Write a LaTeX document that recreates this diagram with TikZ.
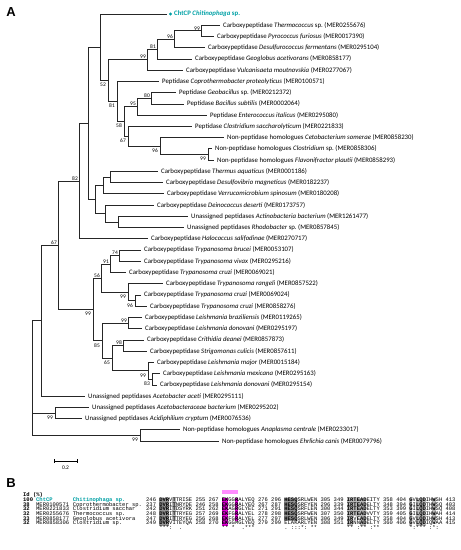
\documentclass[tikz,border=0pt]{standalone}
\usepackage{fontspec}
\setmainfont{Carlito}
\newfontfamily\panelfont{Liberation Sans}
\newfontfamily\alnfont{Liberation Mono}[WordSpace={1,0,0}]
\usetikzlibrary{calc, shapes.geometric}
\frenchspacing

\definecolor{chtteal}{RGB}{0,160,165}
\definecolor{hlmag}{RGB}{225,0,215}
\definecolor{hlpink}{RGB}{255,140,255}
\definecolor{hlgray}{RGB}{185,185,185}
\definecolor{hldark}{RGB}{150,150,150}

\tikzset{
  branch/.style={line width=0.8pt, black!85},
  leaftext/.style={anchor=west, inner sep=0pt, font=\fontsize{6.8}{7}\selectfont},
  bootup/.style={anchor=south east, inner sep=0pt, xshift=-1pt, yshift=0.6pt, font=\fontsize{5.5}{6}\selectfont},
  bootdown/.style={anchor=north east, inner sep=0pt, xshift=-2pt, yshift=-2.5pt, font=\fontsize{5.5}{6}\selectfont},
  chtmark/.style={diamond, fill=chtteal, inner sep=0pt, minimum size=3.6pt},
  alntext/.style={anchor=base west, inner sep=0pt, font=\fontsize{5.483}{5.5}\alnfont},
  panel/.style={anchor=center, inner sep=0pt, font=\fontsize{13}{13}\panelfont\bfseries}
}

% leaf: name, x of text, row, text
\newcommand{\leaf}[4]{%
  \coordinate (#1) at ({#2-3},{14+(#3-1)*11.24});
  \node[leaftext] (#1t) at (#2,{14+(#3-1)*11.24}) {#4};}
% shaded column block: colour, first col, last col, first row, last row
\newcommand{\hlbox}[5]{%
  \fill[#1] ({146+3.29*#2},{500+(#4-1)*4.67-2.33}) rectangle ({146+3.29*(#3+1)},{500+(#5-1)*4.67+2.33});}
% alignment row: row, id, accession, species, sequence
\newcommand{\alnrow}[5]{%
  \node[alntext] (id#1) at (23,{500+(#1-1)*4.67+1.6}) {\bfseries #2};
  \node[alntext] (acc#1) at (36,{500+(#1-1)*4.67+1.6}) {#3};
  \node[alntext] (sp#1) at (72.7,{500+(#1-1)*4.67+1.6}) {#4};
  \node[alntext] (seq#1) at (146,{500+(#1-1)*4.67+1.6}) {#5};}

\begin{document}
\begin{tikzpicture}[x=1pt, y=-1pt]
\useasboundingbox (0,0) rectangle (461,550);

\node[panel] (pA) at (11,12) {A};
\node[panel] (pB) at (11,483) {B};

% leaves
\coordinate (l1) at (167,14);
\node[chtmark] (l1m) at (170.5,14) {};
\node[leaftext, text=chtteal, font=\fontsize{6.8}{7}\selectfont\bfseries] (l1t) at (174,14) {ChtCP \textit{Chitinophaga} sp.};
\leaf{l2}{223}{2}{Carboxypeptidase \textit{Thermococcus} sp. (MER0255676)}
\leaf{l3}{217}{3}{Carboxypeptidase \textit{Pyrococcus furiosus} (MER0017390)}
\leaf{l4}{208}{4}{Carboxypeptidase \textit{Desulfurococcus fermentans} (MER0295104)}
\leaf{l5}{195}{5}{Carboxypeptidase \textit{Geoglobus acetivorans} (MER0858177)}
\leaf{l6}{186}{6}{Carboxypeptidase \textit{Vulcanisaeta moutnovskia} (MER0277067)}
\leaf{l7}{162}{7}{Peptidase \textit{Coprothermobacter proteolyticus} (MER0100571)}
\leaf{l8}{179}{8}{Peptidase \textit{Geobacillus} sp. (MER0212372)}
\leaf{l9}{187}{9}{Peptidase \textit{Bacillus subtilis} (MER0002064)}
\leaf{l10}{210}{10}{Peptidase \textit{Enterococcus italicus} (MER0295080)}
\leaf{l11}{195}{11}{Peptidase \textit{Clostridium saccharolyticum} (MER0221833)}
\leaf{l12}{227}{12}{Non-peptidase homologues \textit{Cetobacterium somerae} (MER0858230)}
\leaf{l13}{215}{13}{Non-peptidase homologues \textit{Clostridium} sp. (MER0858306)}
\leaf{l14}{217}{14}{Non-peptidase homologues \textit{Flavonifractor plautii} (MER0858293)}
\leaf{l15}{161}{15}{Carboxypeptidase \textit{Thermus aquaticus} (MER0001186)}
\leaf{l16}{166}{16}{Carboxypeptidase \textit{Desulfovibrio magneticus} (MER0182237)}
\leaf{l17}{167}{17}{Carboxypeptidase \textit{Verrucomicrobium spinosum} (MER0180208)}
\leaf{l18}{157}{18}{Carboxypeptidase \textit{Deinococcus deserti} (MER0173757)}
\leaf{l19}{191}{19}{Unassigned peptidases \textit{Actinobacteria bacterium} (MER1261477)}
\leaf{l20}{187}{20}{Unassigned peptidases \textit{Rhodobacter} sp. (MER0857845)}
\leaf{l21}{151}{21}{Carboxypeptidase \textit{Halococcus salifodinae} (MER0270717)}
\leaf{l22}{144}{22}{Carboxypeptidase \textit{Trypanosoma brucei} (MER0053107)}
\leaf{l23}{144}{23}{Carboxypeptidase \textit{Trypanosoma vivax} (MER0295216)}
\leaf{l24}{129}{24}{Carboxypeptidase \textit{Trypanosoma cruzi} (MER0069021)}
\leaf{l25}{166}{25}{Carboxypeptidase \textit{Trypanosoma rangeli} (MER0857522)}
\leaf{l26}{144}{26}{Carboxypeptidase \textit{Trypanosoma cruzi} (MER0069024)}
\leaf{l27}{150}{27}{Carboxypeptidase \textit{Trypanosoma cruzi} (MER0858276)}
\leaf{l28}{145}{28}{Carboxypeptidase \textit{Leishmania braziliensis} (MER0119265)}
\leaf{l29}{145}{29}{Carboxypeptidase \textit{Leishmania donovani} (MER0295197)}
\leaf{l30}{147}{30}{Carboxypeptidase \textit{Crithidia deanei} (MER0857873)}
\leaf{l31}{150}{31}{Carboxypeptidase \textit{Strigomonas culicis} (MER0857611)}
\leaf{l32}{157}{32}{Carboxypeptidase \textit{Leishmania major} (MER0015184)}
\leaf{l33}{163}{33}{Carboxypeptidase \textit{Leishmania mexicana} (MER0295163)}
\leaf{l34}{160}{34}{Carboxypeptidase \textit{Leishmania donovani} (MER0295154)}
\leaf{l35}{88}{35}{Unassigned peptidases \textit{Acetobacter aceti} (MER0295111)}
\leaf{l36}{92}{36}{Unassigned peptidases \textit{Acetobacteraceae bacterium} (MER0295202)}
\leaf{l37}{85}{37}{Unassigned peptidases \textit{Acidiphilium cryptum} (MER0076536)}
\leaf{l38}{183}{38}{Non-peptidase homologues \textit{Anaplasma centrale} (MER0233017)}
\leaf{l39}{222}{39}{Non-peptidase homologues \textit{Ehrlichia canis} (MER0079796)}

% internal nodes
\coordinate (J) at (201,30.86);
\coordinate (I) at (174,39.29);
\coordinate (H) at (157,49.13);
\coordinate (G) at (147,59.66);
\coordinate (Bac) at (151,98.30);
\coordinate (M) at (137,106.73);
\coordinate (P) at (208,154.50);
\coordinate (O) at (160,146.07);
\coordinate (N) at (128,136.24);
\coordinate (L) at (124,121.48);
\coordinate (K) at (117,101.46);
\coordinate (F) at (108,80.56);
\coordinate (E) at (100,47.28);
\coordinate (Th) at (110,176.98);
\coordinate (Ve) at (103,185.41);
\coordinate (Ac) at (118,221.94);
\coordinate (De) at (105,213.51);
\coordinate (Q) at (95,199.46);
\coordinate (D) at (88,123.37);
\coordinate (C) at (79,181.09);
\coordinate (n74) at (119,255.66);
\coordinate (n91) at (110,264.09);
\coordinate (n96c) at (135,300.62);
\coordinate (n99r) at (128,292.19);
\coordinate (n56) at (101,278.14);
\coordinate (n99b) at (128,323.10);
\coordinate (n98) at (123,345.58);
\coordinate (n83) at (152,379.30);
\coordinate (n99m) at (148,370.87);
\coordinate (n65) at (112,358.23);
\coordinate (Le) at (102,340.66);
\coordinate (R) at (93,309.40);
\coordinate (B) at (58,245.25);
\coordinate (A) at (41,320.70);
\coordinate (S) at (55,413.02);
\coordinate (T) at (140,435.50);
\coordinate (root) at (32,378.10);

\foreach \p/\c in {J/l2, J/l3, I/J, I/l4, H/I, H/l5, G/H, G/l6, F/G, F/K,
    K/l7, K/L, L/M, L/N, M/Bac, M/l10, Bac/l8, Bac/l9, N/l11, N/O, O/l12, O/P,
    P/l13, P/l14, E/l1, E/F, D/E, D/Q, Q/Ve, Q/De, Ve/Th, Ve/l17, Th/l15, Th/l16,
    De/l18, De/Ac, Ac/l19, Ac/l20, C/D, C/l21, B/C, B/R, R/n56, R/Le,
    n56/n91, n56/n99r, n91/n74, n91/l24, n74/l22, n74/l23, n99r/l25, n99r/n96c,
    n96c/l26, n96c/l27, Le/n99b, Le/n65, n99b/l28, n99b/l29, n65/n98, n65/n99m,
    n98/l30, n98/l31, n99m/l32, n99m/n83, n83/l33, n83/l34, A/B, A/l35,
    S/l36, S/l37, T/l38, T/l39, root/A, root/S, root/T}
  \draw[branch] (\p) |- (\c);

% bootstrap values
\foreach \n/\v in {J/99, I/96, H/81, G/99, Bac/80, M/95, C/82, B/67,
    n74/74, n91/91, n56/56, n99b/99, n98/98}
  \node[bootup] at (\n) {\v};
\foreach \n/\v in {F/52, K/81, L/58, N/67, O/96, P/99, R/99, n99r/99, n96c/96,
    Le/85, n65/65, n99m/99, n83/83, S/99, T/99}
  \node[bootdown] at (\n) {\v};

% scale bar
\coordinate (sb1) at (54,461);
\coordinate (sb2) at (77,461);
\draw[line width=0.7pt] (sb1) -- (sb2);
\draw[line width=0.7pt] ($(sb1)+(0,-2)$) -- ($(sb1)+(0,2)$);
\draw[line width=0.7pt] ($(sb2)+(0,-2)$) -- ($(sb2)+(0,2)$);
\node[font=\fontsize{5.5}{6}\selectfont, inner sep=0pt] (sbl) at (65.5,468) {0.2};

% alignment shading
\hlbox{hldark}{4}{6}{1}{6}
\hlbox{hlgray}{8}{8}{1}{5}
\fill[hlpink] ({146+3.29*23},490.3) rectangle ({146+3.29*28},493.6);
\hlbox{hlmag}{23}{24}{1}{6}
\hlbox{hlmag}{27}{27}{1}{5}
\hlbox{hldark}{42}{45}{1}{5}
\hlbox{hlgray}{61}{62}{1}{6}
\hlbox{hlgray}{63}{66}{1}{4}
\hlbox{hlgray}{65}{66}{5}{6}
\hlbox{hlgray}{80}{80}{1}{6}
\hlbox{hlgray}{82}{84}{1}{6}
\hlbox{hlgray}{87}{87}{1}{5}

\node[alntext] (idh) at (23,496.6) {\bfseries Id (\%)};
\alnrow{1}{100}{\textcolor{chtteal}{\bfseries ChtCP}}{\textcolor{chtteal}{\bfseries Chitinophaga sp.}}{246 \textbf{DVR}V\textbf{T}TRISE 255 267 \textbf{EK}GG\textbf{R}ALYEQ 276 296 \textbf{HESQ}SRLWEN 305 349 \textbf{IRTEAD}EITY 358 404 \textbf{G}V\textbf{LQD}IH\textbf{W}SH 413}
\alnrow{2}{38}{MER0100571}{Coprothermobacter sp.}{237 \textbf{DVR}I\textbf{T}NRYDE 246 258 \textbf{EK}GG\textbf{R}ALYEQ 267 287 \textbf{HESQ}SRFYEN 296 339 \textbf{IRTEAD}ELTY 348 394 \textbf{G}I\textbf{LQD}TH\textbf{W}SQ 403}
\alnrow{3}{32}{MER0221833}{Clostridium sacchar}{242 \textbf{DVR}I\textbf{T}DSYRK 251 262 \textbf{EK}AG\textbf{R}GLYEL 271 291 \textbf{HESQ}SRFLEN 300 344 \textbf{IRTEAD}ELTY 353 399 \textbf{G}I\textbf{LQD}IH\textbf{W}SQ 408}
\alnrow{4}{32}{MER0255676}{Thermococcus sp.}{248 \textbf{DVR}I\textbf{T}TRYEG 257 269 \textbf{EK}FG\textbf{R}ALYEL 278 298 \textbf{HESQ}SRFWEN 307 350 \textbf{IRTEAD}VVTY 359 405 \textbf{G}I\textbf{LQD}IH\textbf{W}AH 414}
\alnrow{5}{33}{MER0858177}{Geoglobus acetivora}{247 \textbf{DVR}I\textbf{T}TRYEG 256 268 \textbf{EK}FG\textbf{R}ALYEL 277 297 \textbf{HESQ}SRLWEN 306 349 \textbf{IR}V\textbf{EAD}ELTY 358 404 \textbf{G}V\textbf{LQD}IH\textbf{W}SH 413}
\alnrow{6}{32}{MER0858306}{Clostridium sp.}{249 \textbf{DVR}VITEYQA 258 270 \textbf{EK}GGMGLYEQ 279 299 ELAKARLYEN 308 351 \textbf{IR}NN\textbf{AD}ELTY 360 406 \textbf{G}V\textbf{LQD}IQ\textbf{W}AA 415}

% conservation line
\node[alntext] (cs1) at ({146+3.29*4},529.6) {***:~~.};
\node[alntext] (cs2) at ({146+3.29*23},529.6) {**~*~~.***};
\node[alntext] (cs3) at ({146+3.29*42},529.6) {.~:::*:~**};
\node[alntext] (cs4) at ({146+3.29*61},529.6) {**~:**~:**};
\node[alntext] (cs5) at ({146+3.29*80},529.6) {*:***~:*:};
\end{tikzpicture}
\end{document}
